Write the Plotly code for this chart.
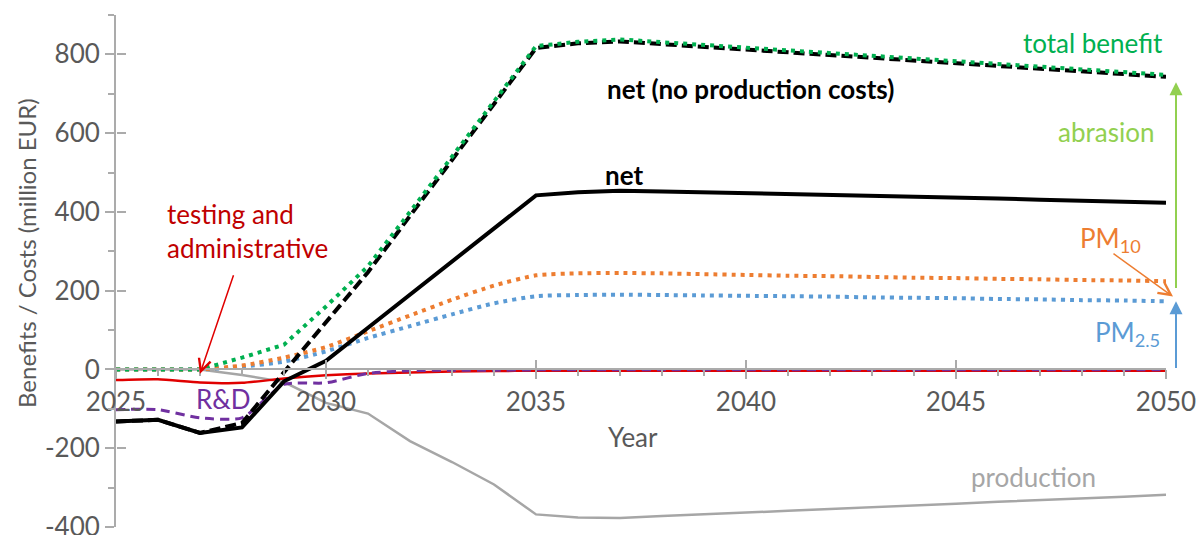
import plotly.graph_objects as go

# ---- data (million EUR per year) ----
years = list(range(2025, 2051))

total_benefit = [0, 0, 0, 30, 63, 160, 262, 400, 540, 680, 821, 832, 838, 831, 824,
                 817, 810, 803, 796, 789, 783, 776, 769, 762, 755, 748]
net_no_production = [-132, -128, -161, -136, -7, 120, 247, 390, 533, 676, 816, 828, 833,
                     826, 819, 812, 805, 798, 791, 784, 778, 771, 764, 757, 750, 743]
net = [-132, -128, -161, -147, -30, 22, 106, 190, 274, 358, 442, 450, 454, 452, 450,
       448, 446, 444, 441, 439, 437, 434, 431, 428, 426, 423]
pm10 = [0, 0, 0, 10, 30, 57, 97, 137, 177, 213, 239, 244, 245, 244, 242, 240, 238, 237,
        235, 233, 232, 230, 229, 227, 226, 224]
pm25 = [0, 0, 0, 7, 20, 46, 80, 110, 140, 168, 186, 189, 190, 189, 188, 187, 186, 185,
        183, 182, 181, 179, 178, 176, 175, 173]
testing_admin = [-27, -25, -33, -34, -23, -15, -10, -8, -5, -4, -3, -3, -3, -3, -3, -3,
                 -3, -3, -3, -3, -3, -3, -3, -3, -3, -3]
r_and_d = [-102, -102, -123, -123, -38, -34, -10, -3, -2, -2, -1, -1, -1, -1, -1, -1,
           -1, -1, -1, -1, -1, -1, -1, -1, -1, -1]
production = [0, 0, 0, -14, -32, -85, -112, -182, -235, -292, -368, -376, -377, -372,
              -368, -363, -359, -354, -350, -345, -341, -336, -332, -327, -323, -318]

y_ticks = [-400, -200, 0, 200, 400, 600, 800]
y_tick_labels = ["-400", "-200", "0", "200", "400", "600", "800"]
x_ticks = [2025, 2030, 2035, 2040, 2045, 2050]

# ---- style ----
FONT = "Lato"
AXIS_GREY = "#ABABAB"
TEXT_GREY = "#595959"
GREEN = "#00B050"
LIGHT_GREEN = "#92D050"
ORANGE = "#ED7D31"
BLUE = "#5B9BD5"
RED_LINE = "#E00000"
RED_TEXT = "#C00000"
PURPLE = "#7030A0"
PROD_GREY = "#A6A6A6"

Y_MIN, Y_MAX = -400, 900
X_MIN, X_MAX = 2025, 2050
zero_pos = (0 - Y_MIN) / (Y_MAX - Y_MIN)

fig = go.Figure()

fig.add_trace(go.Scatter(x=years, y=production, mode="lines",
                         line=dict(color=PROD_GREY, width=2.5)))
fig.add_trace(go.Scatter(x=years, y=testing_admin, mode="lines",
                         line=dict(color=RED_LINE, width=2.5, shape="spline", smoothing=0.6)))
fig.add_trace(go.Scatter(x=years, y=r_and_d, mode="lines",
                         line=dict(color=PURPLE, width=3, dash="9px,6px",
                                   shape="spline", smoothing=0.6)))
fig.add_trace(go.Scatter(x=years, y=pm25, mode="lines",
                         line=dict(color=BLUE, width=4, dash="4px,5px",
                                   shape="spline", smoothing=0.6)))
fig.add_trace(go.Scatter(x=years, y=pm10, mode="lines",
                         line=dict(color=ORANGE, width=4, dash="4px,5px",
                                   shape="spline", smoothing=0.6)))
fig.add_trace(go.Scatter(x=years, y=net, mode="lines",
                         line=dict(color="black", width=4)))
fig.add_trace(go.Scatter(x=years, y=net_no_production, mode="lines",
                         line=dict(color="black", width=4, dash="11px,5px")))
# total benefit sits on the overlay axes (x2/y2), which carry the inner half of the major ticks
fig.add_trace(go.Scatter(x=years, y=total_benefit, mode="lines",
                         line=dict(color=GREEN, width=4, dash="4px,5px"),
                         xaxis="x2", yaxis="y2"))

axis_common = dict(showgrid=False, zeroline=False, color=AXIS_GREY,
                   tickcolor=AXIS_GREY, tickwidth=2, automargin=False)

fig.update_layout(
    width=1199, height=535,
    margin=dict(l=116, r=33, t=15, b=8),
    paper_bgcolor="white", plot_bgcolor="white",
    showlegend=False,
    font=dict(family=FONT, size=26, color=TEXT_GREY),
    xaxis=dict(range=[X_MIN, X_MAX], anchor="free", position=zero_pos,
               showline=True, linecolor=AXIS_GREY, linewidth=2,
               ticks="outside", ticklen=9, tickvals=x_ticks,
               tickfont=dict(family=FONT, size=26, color=TEXT_GREY),
               ticklabeloverflow="allow",
               minor=dict(dtick=1, tick0=2025, ticks="outside", ticklen=6,
                          tickcolor=AXIS_GREY, tickwidth=2),
               **axis_common),
    yaxis=dict(range=[Y_MIN, Y_MAX], showline=True, linecolor=AXIS_GREY, linewidth=2,
               ticks="outside", ticklen=9, tickvals=y_ticks, ticktext=y_tick_labels,
               tickfont=dict(family=FONT, size=26, color=TEXT_GREY),
               ticklabeloverflow="allow",
               minor=dict(dtick=100, tick0=0, ticks="outside", ticklen=6,
                          tickcolor=AXIS_GREY, tickwidth=2),
               **axis_common),
    xaxis2=dict(range=[X_MIN, X_MAX], overlaying="x", anchor="free", position=zero_pos,
                showline=False, ticks="inside", ticklen=9, tickvals=x_ticks,
                showticklabels=False, **axis_common),
    yaxis2=dict(range=[Y_MIN, Y_MAX], overlaying="y", anchor="free", position=0,
                side="left", showline=False, ticks="inside", ticklen=9,
                tickvals=y_ticks, showticklabels=False, **axis_common),
)


def label(text, xref, x, y, color, size=26, yref="y", **kw):
    base = dict(text=text, xref=xref, yref=yref, x=x, y=y, showarrow=False,
                xanchor="center", yanchor="middle", font=dict(size=size, color=color))
    base.update(kw)
    return base


annotations = [
    # axis titles
    label("Year", "x", 2037.3, (527 - 437) / 512, TEXT_GREY, yref="paper"),
    label("Benefits / Costs (million EUR)", "paper", (26 - 116) / 1050, (527 - 253) / 512,
          TEXT_GREY, size=24, yref="paper", textangle=-90),
    # series labels
    label("total benefit", "paper", (1093 - 116) / 1050, 830, GREEN),
    label("abrasion", "paper", (1106 - 116) / 1050, 602, LIGHT_GREEN),
    label("PM<sub>10</sub>", "paper", (1110 - 116) / 1050, 330, ORANGE),
    label("PM<sub>2.5</sub>", "paper", (1127 - 116) / 1050, 92, BLUE),
    label("<b>net (no production costs)</b>", "x", 2040.1, 711, "black"),
    label("<b>net</b>", "x", 2037.1, 495, "black"),
    label("testing and<br>administrative", "x", 2026.17, 352, RED_TEXT,
          xanchor="left", align="left"),
    label("R&amp;D", "x", 2027.57, -76, PURPLE),
    label("production", "x", 2046.85, -272, PROD_GREY),
    # arrows
    dict(text="", xref="x", yref="y", x=2027, y=-11, ax=34, ay=-100,
         showarrow=True, arrowhead=5, arrowsize=1.6, arrowwidth=1.5, arrowcolor=RED_LINE),
    dict(text="", xref="paper", yref="y", x=(1173 - 116) / 1050, y=185, ax=-61, ay=-44,
         showarrow=True, arrowhead=5, arrowsize=1.6, arrowwidth=1.5, arrowcolor=ORANGE),
    dict(text="", xref="paper", yref="y", x=(1176 - 116) / 1050, y=173,
         ax=0, ay=0, axref="pixel", ayref="y",
         showarrow=True, arrowhead=2, arrowsize=1.3, arrowwidth=2, arrowcolor=BLUE),
    dict(text="", xref="paper", yref="y", x=(1176 - 116) / 1050, y=729,
         ax=0, ay=203, axref="pixel", ayref="y",
         showarrow=True, arrowhead=2, arrowsize=1.3, arrowwidth=2, arrowcolor=LIGHT_GREEN),
]
fig.update_layout(annotations=annotations)

fig.write_html("out.html")
